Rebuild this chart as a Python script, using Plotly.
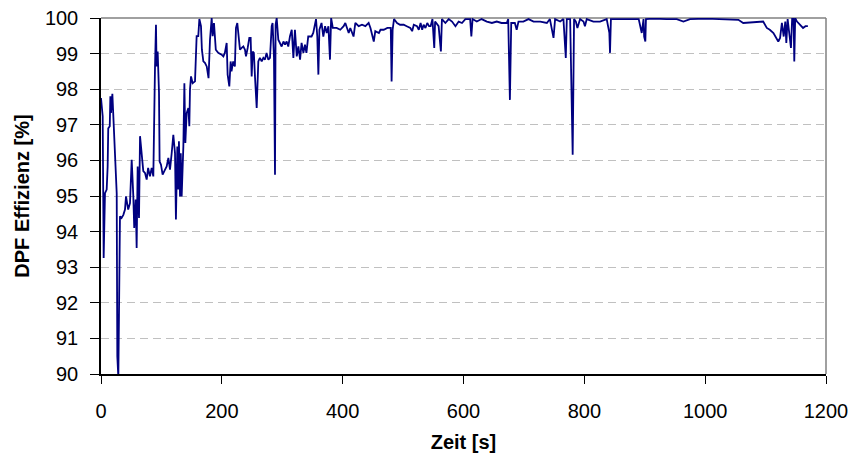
import plotly.graph_objects as go

time_s = [0, 2.8, 4.4, 6.6, 9.4, 11, 12, 14.5, 15.5, 16.5, 18.8, 20.4, 22, 24.8, 26, 27, 28.7,
          31.4, 34, 37, 39.7, 41.4, 45, 48, 50.8, 53.5, 55, 57.4, 59, 60.7, 62.9, 64.6, 67.3, 70,
          72.8, 75.6, 78, 81, 83.9, 86.6, 89.4, 91, 92, 93.8, 96, 97, 99.3, 102, 106, 108.7,
          111.5, 114.2, 117, 119.7, 122.5, 124, 126.3, 128, 129, 130.8, 132, 133.5, 136.3, 138,
          139.6, 141.8, 144.6, 146.2, 147.3, 149, 151.7, 155.6, 158.3, 161, 162.8, 165.5, 167,
          169.4, 172, 175, 178, 180.4, 183.2, 184.8, 187, 190, 194, 199.7, 202.5, 205, 208,
          209.6, 212.4, 214.6, 216, 218.8, 221.6, 223.4, 225.6, 227.3, 230, 232.8, 235.6, 238.3,
          240, 242.8, 245.5, 247.7, 249.4, 251, 253, 255, 257.7, 260.4, 263, 266, 268.7, 271.4,
          274, 277, 279.7, 282.5, 284, 286.3, 288, 289, 290.8, 293.5, 296, 299, 302, 304.6,
          307.3, 310, 312.8,
          315.7, 318.4, 321, 324, 326.7, 329.5, 332, 335, 337.6, 340, 343, 348.5, 351.3, 355.9,
          358, 359.8, 361.5, 365, 368, 370.9, 373.6, 376.4, 379, 380.9, 383.7, 390, 396, 401.6,
          404.4, 410, 412.6, 418, 421, 426.6, 432, 437.6, 443, 446, 451.5, 454, 460, 462.6, 468,
          474, 479.6, 481, 482.7, 485, 490, 495, 501, 506, 512, 515, 517.7, 523, 526, 529,
          531.6, 534, 537, 540, 543, 545.6, 548.6, 551.6, 553, 558.8, 562.6, 564.3, 570, 575.5,
          581, 586.7, 592, 597.5, 603, 608.6, 611, 613, 615, 622, 630, 638.6, 647, 655, 663,
          671.6, 674, 676.8, 679, 685, 688, 691, 699, 707.6, 716, 727, 738,
          743, 749, 751.6, 760, 765.4, 767, 769.3, 771, 776.5, 780.7, 783, 786, 788.5, 793,
          798.6, 801, 804, 815, 826, 837, 841.4, 842.5, 844, 853.6, 870, 890, 895, 898, 899,
          901, 902, 914, 936, 953, 964, 975, 1002, 1019, 1044, 1055, 1063, 1074, 1085, 1096,
          1102, 1107, 1113, 1118.5, 1121, 1124, 1127, 1130, 1132.6, 1134.3, 1136.5, 1139.8,
          1142, 1144, 1146.4, 1147.5, 1149, 1152, 1157.5, 1162, 1166, 1170]

efficiency = [97.75, 97.24, 93.26, 95.08, 95.18, 95.83, 96.9, 96.96, 97.8, 97.33, 97.87, 97.33,
              96.58, 95.46, 95.08, 90.5, 89.9,
              94.43, 94.38, 94.47, 94.62, 94.99, 94.62, 94.8, 96.02, 94.99, 94.1, 94.9, 93.54,
              95.83, 94.38, 96.68, 96.2, 95.7, 95.65, 95.46, 95.79, 95.55, 95.79, 95.55, 98.64,
              99.81, 98.64, 99.06, 97.9, 95.97, 95.88, 95.6, 95.74, 95.83, 96.07, 95.74, 96.2,
              96.72, 96.2, 94.34, 96.39, 95.18, 96.54, 94.99, 96.2, 94.99, 96.39, 98.17, 96.49,
              97.33, 97.47, 96.96, 97.99, 98.36, 98.17, 98.22, 99.49, 99.49, 99.97, 99.77, 99.11,
              98.78, 98.74, 98.64, 98.31, 99.39, 100.0, 99.49, 99.86, 99.11, 99.02, 98.97, 98.92,
              99.02, 99.3, 98.41, 98.08, 98.78, 98.5, 98.78, 98.64, 99.72, 99.86, 99.58, 99.11,
              99.16, 99.2, 99.11, 98.92, 99.16, 99.44, 99.44, 98.36, 99.06, 99.02, 98.31, 97.47,
              98.78, 98.88, 98.78, 98.88, 98.83, 99.02, 98.83, 98.88, 99.77, 99.86, 98.88, 95.6,
              99.81, 100.0, 99.39, 99.3, 99.2, 99.34, 99.25, 99.34, 99.2, 99.49,
              99.67, 98.88, 99.67, 98.92, 99.2, 98.83, 99.3, 99.02, 99.25, 99.02, 99.48, 99.48,
              99.58, 99.97, 99.48, 98.41, 99.67, 99.86, 99.48, 99.77, 99.58, 99.77, 98.83, 100.0,
              99.72, 99.72, 99.67, 99.77, 99.86, 99.58, 99.72, 99.48, 99.86, 99.77, 99.81, 99.77,
              99.86, 99.72, 99.34, 99.63, 99.58, 99.67, 99.67, 99.72, 99.72, 98.22, 99.67, 99.97,
              99.86, 99.81, 99.81, 99.77, 99.72, 99.63, 99.81, 99.77, 99.67, 99.86, 99.67, 99.81,
              99.72, 99.86, 99.77, 99.77, 99.97, 99.16, 99.9, 99.77, 99.06, 99.97, 99.86, 99.97,
              99.9, 99.77, 99.9, 99.86, 99.97, 99.97, 99.97, 99.48, 99.97, 99.9, 99.97, 99.9,
              99.86, 99.9, 99.86, 99.86, 99.97, 97.7, 99.86, 99.86, 99.67, 99.9, 99.9, 99.97,
              99.9, 99.9, 99.86,
              99.97, 99.44, 99.97, 99.9, 99.97, 99.48, 98.88, 99.97, 99.97, 96.16, 99.97, 99.9,
              99.72, 99.97, 99.9, 99.77, 99.97, 99.9, 99.9, 99.97, 99.58, 99.02, 99.97, 99.97,
              99.97, 99.97, 99.58, 99.97, 99.48, 99.34, 99.97, 99.98, 99.97, 99.97, 99.9, 99.97,
              99.98, 99.97, 99.97, 99.95, 99.86, 99.88, 99.9, 99.9, 99.72, 99.67, 99.58, 99.44,
              99.34, 99.44, 99.86, 99.48, 99.9, 99.3, 99.97, 99.48, 99.16, 100.0, 99.97, 98.78,
              100.0, 99.9, 99.81, 99.72, 99.77, 99.77]

x_ticks = [0, 200, 400, 600, 800, 1000, 1200]
y_ticks = [90, 91, 92, 93, 94, 95, 96, 97, 98, 99, 100]

FONT = "Liberation Sans, Arial, sans-serif"

fig = go.Figure()
fig.add_trace(go.Scatter(
    x=time_s, y=efficiency, mode="lines",
    line=dict(color="#000080", width=1.8),
    showlegend=False, hoverinfo="x+y",
))

fig.update_layout(
    width=852, height=459,
    margin=dict(l=101, r=26, t=18, b=85, autoexpand=False),
    paper_bgcolor="white", plot_bgcolor="white",
    font=dict(family=FONT, size=20, color="black"),
    xaxis=dict(
        range=[0, 1200], tickvals=x_ticks, ticktext=[str(v) for v in x_ticks],
        showgrid=False, zeroline=False, automargin=False,
        showline=True, linecolor="black", linewidth=1.5,
        ticks="outside", ticklen=8, tickcolor="black", tickwidth=1.2,
        ticklabelstandoff=10,
        title=dict(text="<b>Zeit [s]</b>", standoff=14, font=dict(size=20)),
    ),
    yaxis=dict(
        range=[90, 100], tickvals=y_ticks, ticktext=[str(v) for v in y_ticks],
        showgrid=True, gridcolor="#c0c0c0", gridwidth=1, griddash="8px,5px",
        zeroline=False, automargin=False,
        showline=True, linecolor="black", linewidth=1.5,
        ticks="outside", ticklen=9, tickcolor="black", tickwidth=1.2,
        ticklabelstandoff=8,
        title=dict(text="<b>DPF Effizienz [%]</b>", standoff=10, font=dict(size=20)),
    ),
    shapes=[
        dict(type="line", xref="paper", yref="paper", x0=0, x1=1, y0=1, y1=1,
             line=dict(color="#808080", width=1.5), layer="below"),
        dict(type="line", xref="paper", yref="paper", x0=1, x1=1, y0=0, y1=1,
             line=dict(color="#808080", width=1.5), layer="below"),
    ],
)

fig.write_html("out.html")
